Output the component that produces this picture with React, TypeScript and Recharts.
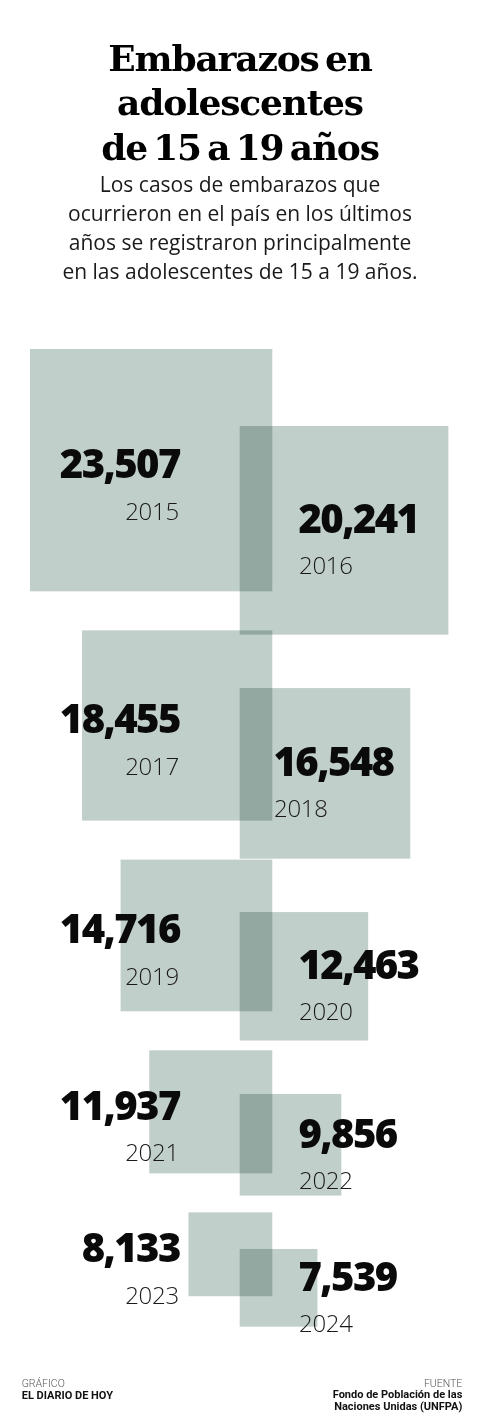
import React from 'react'
import { ComposedChart, ReferenceArea, XAxis, YAxis } from 'recharts'

// casos de embarazo, 15 a 19 años
const years = ['2015', '2016', '2017', '2018', '2019', '2020', '2021', '2022', '2023', '2024']
const cases = [23507, 20241, 18455, 16548, 14716, 12463, 11937, 9856, 8133, 7539]

const titleLines = ['Embarazos en', 'adolescentes', 'de 15 a 19 años']
const subtitleLines = [
  'Los casos de embarazos que',
  'ocurrieron en el país en los últimos',
  'años se registraron principalmente',
  'en las adolescentes de 15 a 19 años.',
]

const W = 480
const CHART_TOP = 340
const CHART_H = 1000
const U = 97 // casos por pixel, igual en x y en y para que salgan cuadrados

const LEFT_COL_RIGHT = 272.3 * U
const RIGHT_COL_LEFT = 239.7 * U
const LEFT_START = 9 * U
const RIGHT_START = 86 * U
const LEFT_GAP = 39 * U
const RIGHT_GAP = 53.4 * U

const FILL = '#c1cfca'
const NUM_FONT = "'Open Sans', 'Noto Sans', sans-serif"
const labelNudge: Record<string, number> = { '2018': -25 }

type Square = { year: string; value: number; left: boolean; x1: number; x2: number; y1: number; y2: number }

function buildSquares(): Square[] {
  const out: Square[] = []
  let lt = LEFT_START
  let rt = RIGHT_START
  years.forEach((year, i) => {
    const value = cases[i]
    if (i % 2 === 0) {
      out.push({ year, value, left: true, x1: LEFT_COL_RIGHT - value, x2: LEFT_COL_RIGHT, y1: lt, y2: lt + value })
      lt += value + LEFT_GAP
    } else {
      out.push({ year, value, left: false, x1: RIGHT_COL_LEFT, x2: RIGHT_COL_LEFT + value, y1: rt, y2: rt + value })
      rt += value + RIGHT_GAP
    }
  })
  return out
}

const squares = buildSquares()

const renderSquare = (props: any) => (
  <rect
    x={props.x}
    y={props.y}
    width={props.width}
    height={props.height}
    fill={FILL}
    style={{ mixBlendMode: 'multiply' }}
  />
)

const makeLabel = (s: Square) => (props: any) => {
  const { x, y, width, height } = props.viewBox
  const cy = y + height / 2
  const txt = s.value.toLocaleString('en-US')
  if (s.left) {
    const ax = x + width - 92.5
    return (
      <g>
        <text x={ax} y={cy + 8} textAnchor="end" fontFamily={NUM_FONT} fontWeight={800} fontSize={40} letterSpacing={-1.6} fill="#0a0a0a">
          {txt}
        </text>
        <text x={ax - 1} y={cy + 49.5} textAnchor="end" fontFamily={NUM_FONT} fontWeight={300} fontSize={24} letterSpacing={-0.3} fill="#1a1a1a">
          {s.year}
        </text>
      </g>
    )
  }
  const ax = x + 58.8 + (labelNudge[s.year] || 0)
  return (
    <g>
      <text x={ax} y={cy + 3} textAnchor="start" fontFamily={NUM_FONT} fontWeight={800} fontSize={40} letterSpacing={-1.6} fill="#0a0a0a">
        {txt}
      </text>
      <text x={ax + 0.5} y={cy + 44} textAnchor="start" fontFamily={NUM_FONT} fontWeight={300} fontSize={24} letterSpacing={-0.3} fill="#1a1a1a">
        {s.year}
      </text>
    </g>
  )
}

export default function App() {
  return (
    <div style={{ position: 'absolute', left: 0, top: 0, width: W, height: 1426, background: '#fff', overflow: 'hidden' }}>
      <svg width={W} height={300} style={{ position: 'absolute', left: 0, top: 0 }}>
        {titleLines.map((t, i) => (
          <text
            key={t}
            x={240}
            y={70.7 + i * 44.7}
            textAnchor="middle"
            fontFamily="'DejaVu Serif', serif"
            fontWeight={700}
            fontSize={36}
            letterSpacing={-1.2}
            wordSpacing={-5}
            fill="#000"
          >
            {t}
          </text>
        ))}
        {subtitleLines.map((t, i) => (
          <text
            key={t}
            x={240}
            y={191.7 + i * 29}
            textAnchor="middle"
            fontFamily={NUM_FONT}
            fontWeight={400}
            fontSize={21}
            fill="#1a1a1a"
          >
            {t}
          </text>
        ))}
      </svg>

      <div style={{ position: 'absolute', left: 0, top: CHART_TOP }}>
        <ComposedChart width={W} height={CHART_H} data={[]} margin={{ top: 0, right: 0, bottom: 0, left: 0 }}>
          <XAxis type="number" dataKey="x" domain={[0, W * U]} hide allowDataOverflow />
          <YAxis type="number" dataKey="y" domain={[0, CHART_H * U]} reversed hide allowDataOverflow width={0} />
          {squares.map((s) => (
            <ReferenceArea
              key={s.year}
              x1={s.x1}
              x2={s.x2}
              y1={s.y1}
              y2={s.y2}
              ifOverflow="visible"
              shape={renderSquare}
              label={makeLabel(s)}
            />
          ))}
        </ComposedChart>
      </div>

      <svg width={W} height={60} style={{ position: 'absolute', left: 0, top: 1366 }}>
        <text x={21.7} y={21.3} fontFamily="Roboto, sans-serif" fontWeight={300} fontSize={10.5} fill="#555">
          GRÁFICO
        </text>
        <text x={21.7} y={33.3} fontFamily="Roboto, sans-serif" fontWeight={700} fontSize={11} fill="#111">
          EL DIARIO DE HOY
        </text>
        <text x={462.3} y={20.7} textAnchor="end" fontFamily="Roboto, sans-serif" fontWeight={300} fontSize={10.5} fill="#555">
          FUENTE
        </text>
        <text x={462.3} y={31.7} textAnchor="end" fontFamily="Roboto, sans-serif" fontWeight={700} fontSize={11} fill="#111">
          Fondo de Población de las
        </text>
        <text x={462.3} y={44} textAnchor="end" fontFamily="Roboto, sans-serif" fontWeight={700} fontSize={11} fill="#111">
          Naciones Unidas (UNFPA)
        </text>
      </svg>
    </div>
  )
}
